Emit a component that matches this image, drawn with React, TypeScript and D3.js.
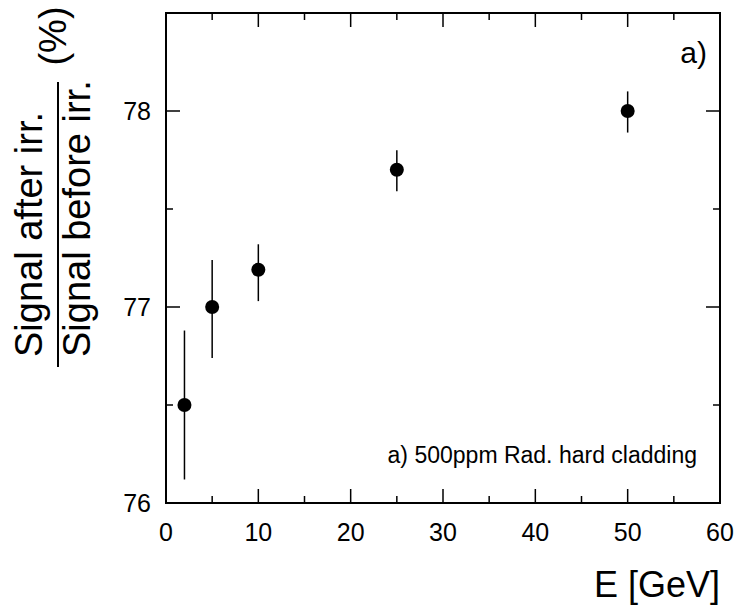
import React from "react";
import * as d3 from "d3";

const energies = [2, 5, 10, 25, 50];
const ratios = [76.5, 77.0, 77.19, 77.7, 78.0];
const errUp = [0.38, 0.24, 0.13, 0.1, 0.1];
const errDown = [0.38, 0.26, 0.16, 0.11, 0.11];
const xMajorTicks = [0, 10, 20, 30, 40, 50, 60];
const xMinorTicks = [5, 15, 25, 35, 45, 55];
const yMajorTicks = [76, 77, 78];
const yMinorTicks = [76.5, 77.5];

const W = 741;
const H = 612;
const L = 166, R = 720, T = 13, B = 503;
const FONT = "'Liberation Sans', Arial, Helvetica, sans-serif";

export default function App() {
  const x = d3.scaleLinear().domain([0, 60]).range([L, R]);
  const y = d3.scaleLinear().domain([76, 78.5]).range([B, T]);
  const maj = 14, min = 7;

  return (
    <svg width={W} height={H} style={{ position: "absolute", left: 0, top: 0, background: "#fff" }} fontFamily={FONT}>
      <rect x={0} y={0} width={W} height={H} fill="#fff" />
      <g stroke="#000" strokeWidth={1.5}>
        {xMajorTicks.map((t) => (
          <g key={"xM" + t}>
            <line x1={x(t)} x2={x(t)} y1={B} y2={B - maj} />
            <line x1={x(t)} x2={x(t)} y1={T} y2={T + maj} />
          </g>
        ))}
        {xMinorTicks.map((t) => (
          <g key={"xm" + t}>
            <line x1={x(t)} x2={x(t)} y1={B} y2={B - min} />
            <line x1={x(t)} x2={x(t)} y1={T} y2={T + min} />
          </g>
        ))}
        {yMajorTicks.map((t) => (
          <g key={"yM" + t}>
            <line x1={L} x2={L + maj} y1={y(t)} y2={y(t)} />
            <line x1={R} x2={R - maj} y1={y(t)} y2={y(t)} />
          </g>
        ))}
        {yMinorTicks.map((t) => (
          <g key={"ym" + t}>
            <line x1={L} x2={L + min} y1={y(t)} y2={y(t)} />
            <line x1={R} x2={R - min} y1={y(t)} y2={y(t)} />
          </g>
        ))}
      </g>
      <rect x={L} y={T} width={R - L} height={B - T} fill="none" stroke="#000" strokeWidth={2} />
      <g fontSize={25} fill="#000">
        {xMajorTicks.map((t) => (
          <text key={"xl" + t} x={x(t)} y={541} textAnchor="middle">{t}</text>
        ))}
        {yMajorTicks.map((t) => (
          <text key={"yl" + t} x={151} y={y(t) + 9} textAnchor="end">{t}</text>
        ))}
      </g>
      <g>
        {energies.map((e, i) => (
          <g key={"p" + i}>
            <line x1={x(e)} x2={x(e)} y1={y(ratios[i] - errDown[i])} y2={y(ratios[i] + errUp[i])} stroke="#000" strokeWidth={1.5} />
            <circle cx={x(e)} cy={y(ratios[i])} r={7} fill="#000" />
          </g>
        ))}
      </g>
      <text x={707} y={63} fontSize={30} textAnchor="end">a)</text>
      <text x={697} y={463} fontSize={23} textAnchor="end">a) 500ppm Rad. hard cladding</text>
      <text x={720} y={597} fontSize={36} textAnchor="end">E [GeV]</text>
      <g fontSize={38}>
        <text transform="translate(42,357) rotate(-90)">Signal after irr.</text>
        <text transform="translate(90,357) rotate(-90)">Signal before irr.</text>
        <text transform="translate(66,36) rotate(-90)" textAnchor="middle">(%)</text>
      </g>
      <line x1={58} x2={58} y1={82} y2={367} stroke="#000" strokeWidth={2} />
    </svg>
  );
}
